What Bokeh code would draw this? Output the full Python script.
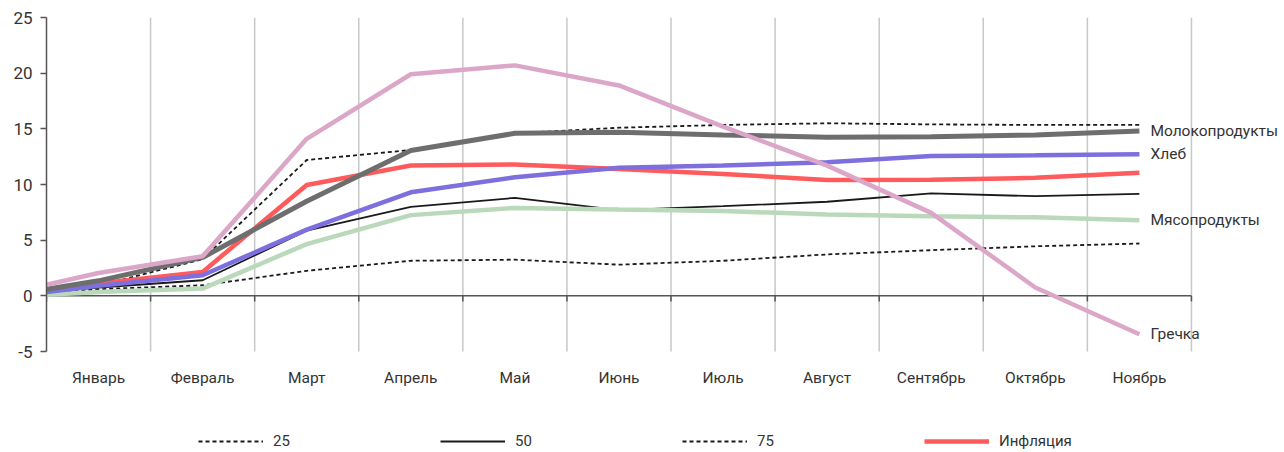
from bokeh.plotting import figure
from bokeh.models import FixedTicker, Legend, LegendItem, ColumnDataSource
from bokeh.embed import file_html
from bokeh.resources import INLINE
from bokeh.core.properties import value

# ---- data ----
months = ["Январь", "Февраль", "Март", "Апрель", "Май", "Июнь",
          "Июль", "Август", "Сентябрь", "Октябрь", "Ноябрь"]
# first value: start of the year (left edge), then one value per month
p25 = [0.15, 0.6, 0.95, 2.25, 3.15, 3.25, 2.8, 3.15, 3.72, 4.1, 4.45, 4.7]
p50 = [0.35, 0.75, 1.4, 5.85, 8.0, 8.8, 7.7, 8.05, 8.45, 9.2, 8.95, 9.15]
p75 = [0.4, 0.9, 3.3, 12.2, 13.1, 14.6, 15.1, 15.35, 15.5, 15.4, 15.35, 15.35]
inflation = [0.45, 1.1, 2.15, 9.95, 11.7, 11.8, 11.4, 10.95, 10.4, 10.42, 10.6, 11.05]
milk = [0.6, 1.35, 3.45, 8.5, 13.05, 14.6, 14.7, 14.45, 14.25, 14.3, 14.45, 14.8]
bread = [0.35, 0.9, 1.85, 5.95, 9.3, 10.65, 11.5, 11.7, 12.0, 12.55, 12.62, 12.72]
meat = [0.1, 0.35, 0.65, 4.65, 7.25, 7.9, 7.75, 7.62, 7.3, 7.15, 7.05, 6.8]
buckwheat = [1.0, 2.05, 3.55, 14.1, 19.9, 20.7, 18.9, 15.2, 11.7, 7.45, 0.75, -3.45]
end_labels = ["Молокопродукты", "Хлеб", "Мясопродукты", "Гречка"]
y_ticks = [-5, 0, 5, 10, 15, 20, 25]

# ---- positions derived from indices ----
n = len(months)
xs = [0.0] + [i + 0.5 for i in range(n)]
y_lo, y_hi = y_ticks[0], y_ticks[-1]

FONT = "Roboto"
TXT = "#333333"
AX = "#555555"

# frame extends below the value range to host month labels and the legend
p = figure(width=1284, height=452, x_range=(0, 11.894), y_range=(-14.07, y_hi),
           output_backend="svg", toolbar_location=None,
           min_border_left=46, min_border_right=0, min_border_top=17,
           min_border_bottom=0)
p.outline_line_color = None
p.background_fill_color = "white"
p.xaxis.visible = False
p.grid.visible = False

# vertical grid lines limited to the value range
grid_x = list(range(1, n + 1))
p.segment(x0=grid_x, y0=[y_lo] * n, x1=grid_x, y1=[y_hi] * n,
          line_color="#c8c8c8", line_width=1.5)

# y axis
p.yaxis.ticker = FixedTicker(ticks=y_ticks)
p.yaxis.major_label_overrides = {t: str(t) for t in y_ticks}
p.yaxis.bounds = (y_lo, y_hi)
p.yaxis.axis_line_color = AX
p.yaxis.axis_line_width = 1.5
p.yaxis.major_tick_line_color = AX
p.yaxis.major_tick_line_width = 1.5
p.yaxis.major_tick_out = 6
p.yaxis.major_tick_in = 0
p.yaxis.minor_tick_line_color = None
p.yaxis.major_label_standoff = 8
p.yaxis.major_label_text_font = FONT
p.yaxis.major_label_text_font_size = "17px"
p.yaxis.major_label_text_color = TXT

# zero line with ticks
p.segment(x0=[0], y0=[0], x1=[n], y1=[0], line_color=AX, line_width=1.5)
tick_x = list(range(0, n + 1))
p.segment(x0=tick_x, y0=[0] * len(tick_x), x1=tick_x, y1=[-0.5] * len(tick_x),
          line_color=AX, line_width=1.5)

# month labels below the value range
p.text(x=xs[1:], y=[y_lo] * n, text=months, y_offset=26,
       text_font=value(FONT), text_font_size="15.5px", text_color=TXT,
       text_align="center", text_baseline="middle")

# ---- series ----
r25 = p.line(xs, p25, line_color="#1a1a1a", line_width=1.8, line_dash="4 3")
r50 = p.line(xs, p50, line_color="#1a1a1a", line_width=1.8)
r75 = p.line(xs, p75, line_color="#1a1a1a", line_width=1.8, line_dash="4 3")
p.line(xs, meat, line_color="#B9D9BA", line_width=4.5)
rinf = p.line(xs, inflation, line_color="#FF5A5C", line_width=4.5)
p.line(xs, bread, line_color="#7D6FDD", line_width=4.5)
p.line(xs, milk, line_color="#6E6E6E", line_width=5)
p.line(xs, buckwheat, line_color="#DCA6C8", line_width=4.5)

# end labels
ends = ColumnDataSource(dict(x=[xs[-1]] * 4,
                             y=[milk[-1], bread[-1], meat[-1], buckwheat[-1]],
                             t=end_labels))
p.text(x="x", y="y", text="t", source=ends, x_offset=11,
       text_font=value(FONT), text_font_size="15.5px", text_color=TXT,
       text_align="left", text_baseline="middle")

legend = Legend(items=[LegendItem(label="25", renderers=[r25]),
                       LegendItem(label="50", renderers=[r50]),
                       LegendItem(label="75", renderers=[r75]),
                       LegendItem(label="Инфляция", renderers=[rinf])],
                orientation="horizontal", location=(152, 2),
                glyph_width=65, glyph_height=16, label_standoff=10,
                label_width=120, spacing=47, padding=0, margin=0,
                border_line_alpha=0, background_fill_alpha=0,
                label_text_font=FONT, label_text_font_size="15px",
                label_text_color=TXT)
p.add_layout(legend)

open("out.html", "w").write(file_html(p, INLINE))
